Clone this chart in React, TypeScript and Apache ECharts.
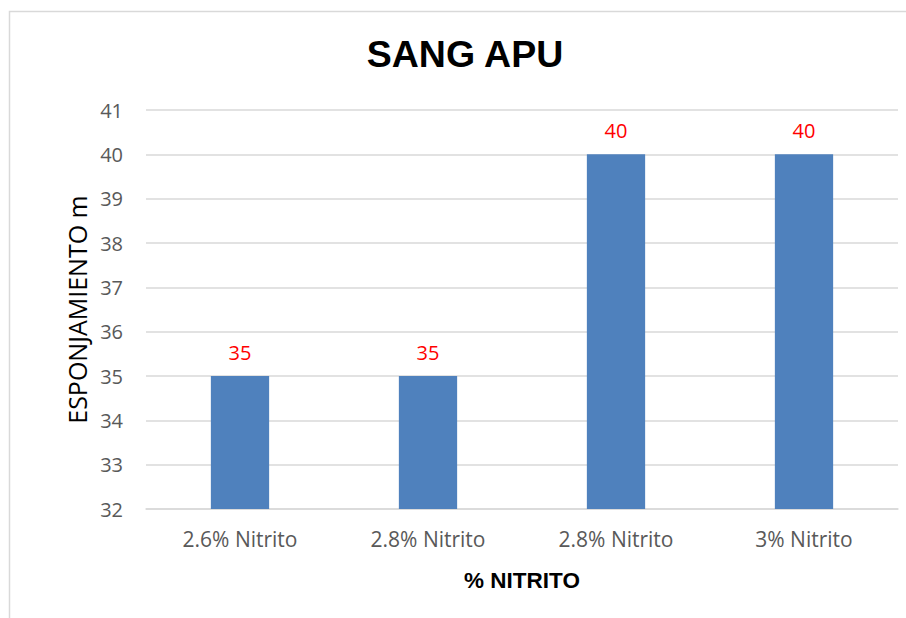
import React, { useEffect, useRef } from "react";
import * as echarts from "echarts";

const categories = ["2.6% Nitrito", "2.8% Nitrito", "2.8% Nitrito", "3% Nitrito"];
const values = [35, 35, 40, 40];
const yMin = 32;
const yMax = 41;
const titleText = "SANG APU";
const yAxisName = "ESPONJAMIENTO m";
const xAxisName = "% NITRITO";

export default function App() {
  const ref = useRef<HTMLDivElement>(null);
  useEffect(() => {
    if (!ref.current) return;
    const chart = echarts.init(ref.current, null, { renderer: "svg" });
    const font = "'Open Sans', sans-serif";
    chart.setOption({
      animation: false,
      backgroundColor: "#ffffff",
      title: {
        text: titleText,
        left: 460,
        top: 30,
        textAlign: "center",
        textStyle: { fontFamily: "'Liberation Sans', Arial, sans-serif", fontWeight: "bold", fontSize: 37.5, color: "#000000" },
      },
      graphic: [
        {
          type: "rect",
          shape: { x: 9.5, y: 11.5, width: 920, height: 640 },
          style: { fill: "none", stroke: "#d9d9d9", lineWidth: 1.5 },
          silent: true,
        },
      ],
      grid: { left: 146, right: 8, top: 110, bottom: 109 },
      xAxis: {
        type: "category",
        data: categories,
        name: xAxisName,
        nameLocation: "middle",
        nameGap: 60,
        nameTextStyle: { fontFamily: "'Liberation Sans', Arial, sans-serif", fontWeight: "bold", fontSize: 22.5, color: "#000000" },
        axisLine: { lineStyle: { color: "#d9d9d9", width: 1.5 } },
        axisTick: { show: false },
        axisLabel: { fontFamily: font, fontSize: 21, color: "#595959", margin: 19 },
      },
      yAxis: {
        type: "value",
        min: yMin,
        max: yMax,
        interval: 1,
        name: yAxisName,
        nameLocation: "middle",
        nameGap: 57,
        nameRotate: 90,
        nameTextStyle: { fontFamily: font, fontSize: 25, color: "#000000" },
        axisLine: { show: false },
        axisTick: { show: false },
        axisLabel: { fontFamily: font, fontSize: 20, color: "#595959", margin: 23 },
        splitLine: { lineStyle: { color: "#d9d9d9", width: 1.5 } },
      },
      series: [
        {
          type: "bar",
          data: values,
          barWidth: "31%",
          itemStyle: { color: "#4f81bd" },
          label: {
            show: true,
            position: "top",
            distance: 14,
            fontFamily: font,
            fontSize: 20,
            color: "#ff0000",
          },
        },
      ],
    });
    return () => chart.dispose();
  }, []);
  return (
    <div
      ref={ref}
      style={{ position: "absolute", left: 0, top: 0, width: 906, height: 618 }}
    />
  );
}
